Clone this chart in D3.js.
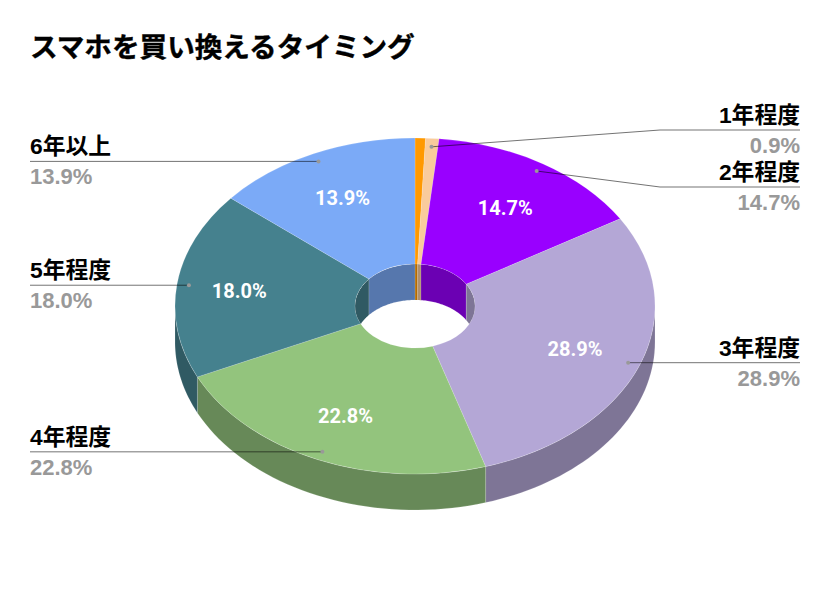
<!DOCTYPE html>
<html>
<head>
<meta charset="utf-8">
<script src="https://cdn.jsdelivr.net/npm/d3@7"></script>
<style>
  html, body { margin: 0; padding: 0; background: #fff; }
  svg { display: block; }
  text { font-family: "Liberation Sans", "Noto Sans CJK JP", sans-serif; }
  text.inside { font-family: Roboto, sans-serif; }
</style>
</head>
<body>
<div id="chart"></div>
<script>
// Data
const title = 'スマホを買い換えるタイミング';
const categories = ['', '1年程度', '2年程度', '3年程度', '4年程度', '5年程度', '6年以上'];
const values = [0.7, 0.9, 14.7, 28.9, 22.8, 18.0, 13.9];
const colors = ['#ff9900', '#f9cb9c', '#9900ff', '#b4a7d6', '#93c47d', '#45818e', '#7baaf7'];

const width = 830, height = 594;
const cx = 415, cy = 306;
const rx = 240, holeRx = 60;
const squash = 0.7;
const depth = 36;

// Slices smaller than this get no label at all, and no inside percent below 2
const MIN_LABEL = 0.8, MIN_INSIDE = 2;

// Where the leader runs out to (only 1年/2年 need an elbow)
const leaderElbow = { '1年程度': [660, 130], '2年程度': [660, 187] };
// Inside labels that don't sit quite on the common radius
const insideNudge = { '2年程度': [-1, 3], '5年程度': [-6, 0] };

const svg = d3.select('#chart').append('svg')
  .attr('width', width)
  .attr('height', height);

svg.append('text')
  .attr('x', 30).attr('y', 57)
  .attr('font-size', 27.6).attr('font-weight', 700)
  .attr('fill', '#000')
  .attr('stroke', '#000')
  .attr('stroke-width', 0.4)
  .text(title);

const pie = d3.pie().sort(null).value(d => d.value)
  .startAngle(0).endAngle(2 * Math.PI);
const slices = pie(values.map((value, i) => ({ value, name: categories[i], color: colors[i] })));

const shade = c => {
  const k = d3.rgb(c);
  return d3.rgb(k.r * 0.7, k.g * 0.7, k.b * 0.7).formatHex();
};
const px = (a, r) => cx + r * Math.sin(a);
const py = (a, r) => cy - r * squash * Math.cos(a);

// Wall of the pie between two angles, r is the radius in x
const line = d3.line();
function wall(a0, a1, r) {
  const steps = d3.range(0, 41).map(i => a0 + (a1 - a0) * i / 40);
  const top = steps.map(a => [px(a, r), py(a, r)]);
  const bottom = steps.slice().reverse().map(a => [px(a, r), py(a, r) + depth]);
  return line(top.concat(bottom)) + 'Z';
}

// Outer wall, front half only
const front = [Math.PI / 2, 3 * Math.PI / 2];
svg.append('g').selectAll('path')
  .data(slices.filter(d => d.endAngle > front[0] && d.startAngle < front[1]))
  .join('path')
  .attr('d', d => wall(Math.max(d.startAngle, front[0]), Math.min(d.endAngle, front[1]), rx))
  .attr('fill', d => shade(d.data.color))
  .attr('stroke', 'rgba(255,255,255,0.3)')
  .attr('stroke-width', 0.5);

// Top surface
const arc = d3.arc().innerRadius(holeRx).outerRadius(rx);
svg.append('g')
  .attr('transform', `translate(${cx},${cy}) scale(1,${squash})`)
  .selectAll('path')
  .data(slices)
  .join('path')
  .attr('d', arc)
  .attr('fill', d => d.data.color)
  .attr('stroke', 'rgba(255,255,255,0.3)')
  .attr('stroke-width', 0.5)
  .attr('vector-effect', 'non-scaling-stroke');

// Far wall of the hole, seen through the hole
svg.append('clipPath').attr('id', 'hole')
  .append('ellipse')
  .attr('cx', cx).attr('cy', cy)
  .attr('rx', holeRx).attr('ry', holeRx * squash);

const holeWalls = [];
slices.forEach(d => {
  [0, -2 * Math.PI].forEach(shift => {
    const a0 = Math.max(d.startAngle + shift, -Math.PI / 2);
    const a1 = Math.min(d.endAngle + shift, Math.PI / 2);
    if (a1 > a0) holeWalls.push({ a0, a1, color: d.data.color });
  });
});
svg.append('g')
  .attr('clip-path', 'url(#hole)')
  .selectAll('path')
  .data(holeWalls)
  .join('path')
  .attr('d', d => wall(d.a0, d.a1, holeRx))
  .attr('fill', d => shade(d.color))
  .attr('stroke', 'rgba(255,255,255,0.3)')
  .attr('stroke-width', 0.5);

// Percent inside the slices
const mid = d => (d.startAngle + d.endAngle) / 2;
const nudge = (d, i) => (insideNudge[d.data.name] || [0, 0])[i];
svg.append('g').selectAll('text')
  .data(slices.filter(d => d.data.value >= MIN_INSIDE))
  .join('text')
  .attr('class', 'inside')
  .attr('x', d => px(mid(d), rx * 0.713) + nudge(d, 0))
  .attr('y', d => py(mid(d), rx * 0.713) + nudge(d, 1))
  .attr('dy', '0.36em')
  .attr('text-anchor', 'middle')
  .attr('font-size', 20).attr('font-weight', 700)
  .attr('fill', '#fff')
  .text(d => d.data.value.toFixed(1) + '%');

// Leaders and outside labels
const labelled = slices.filter(d => d.data.value >= MIN_LABEL);
const leader = svg.append('g').selectAll('g')
  .data(labelled)
  .join('g');

const isRight = d => mid(d) < Math.PI;
const dotX = d => px(mid(d), rx * 0.95);
const dotY = d => py(mid(d), rx * 0.95);
const lineY = d => leaderElbow[d.data.name] ? leaderElbow[d.data.name][1] : dotY(d);
const edgeX = d => isRight(d) ? 800 : 30;

leader.append('path')
  .attr('d', d => {
    const elbow = leaderElbow[d.data.name];
    const pts = [[dotX(d), dotY(d)]];
    if (elbow) pts.push(elbow);
    pts.push([edgeX(d), lineY(d)]);
    return line(pts);
  })
  .attr('fill', 'none')
  .attr('stroke', '#000')
  .attr('stroke-opacity', 0.55)
  .attr('stroke-width', 1);

leader.append('circle')
  .attr('cx', dotX).attr('cy', dotY)
  .attr('r', 2)
  .attr('fill', '#999');

leader.append('text')
  .attr('x', edgeX)
  .attr('y', d => lineY(d) - 7)
  .attr('text-anchor', d => isRight(d) ? 'end' : 'start')
  .attr('font-size', 22.8).attr('font-weight', 700)
  .attr('fill', '#000')
  .text(d => d.data.name);

leader.append('text')
  .attr('x', edgeX)
  .attr('y', d => lineY(d) + 23)
  .attr('text-anchor', d => isRight(d) ? 'end' : 'start')
  .attr('font-size', 22).attr('font-weight', 700)
  .attr('fill', '#999')
  .text(d => d.data.value.toFixed(1) + '%');
</script>
</body>
</html>
